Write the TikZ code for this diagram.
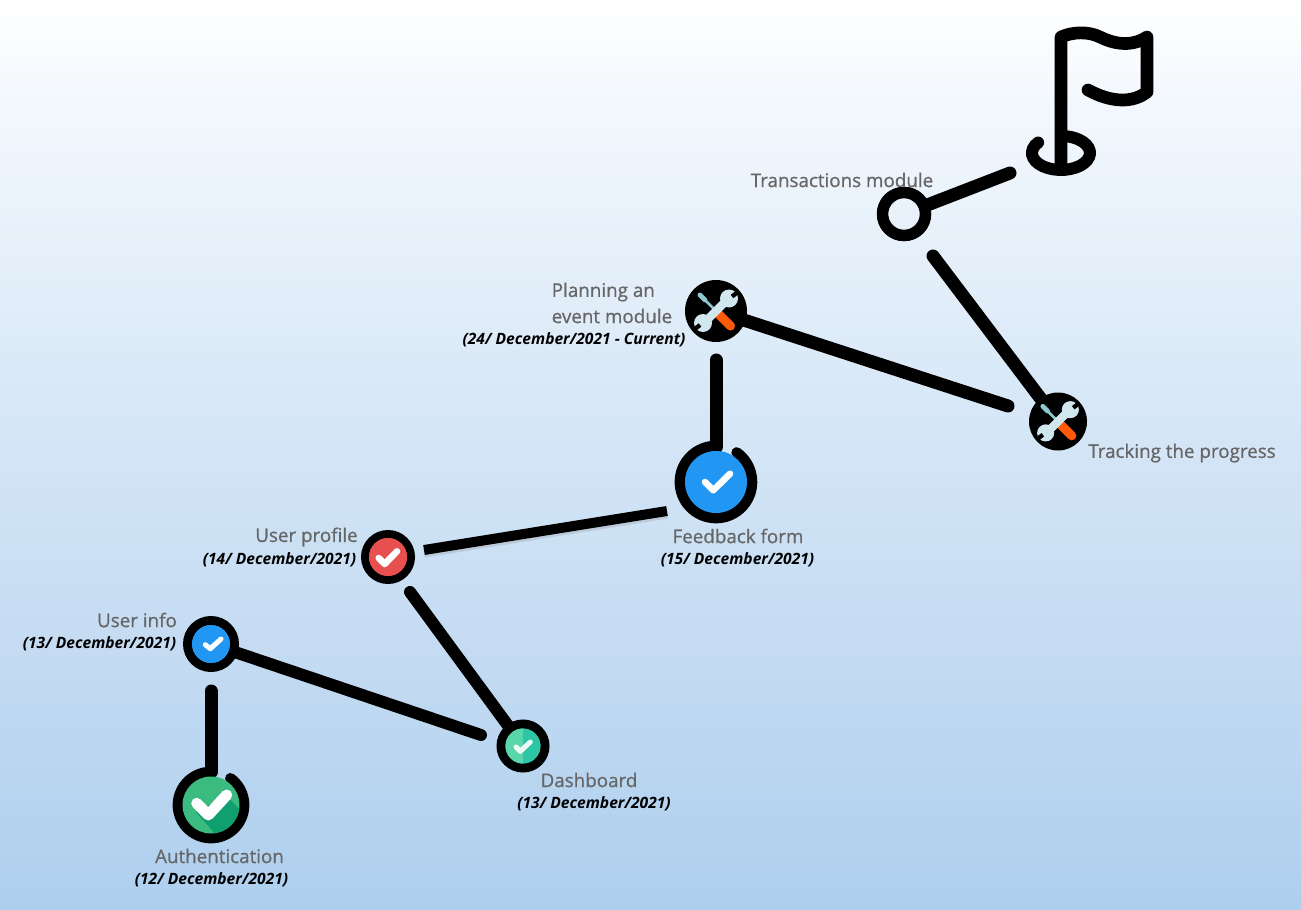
\documentclass[tikz,border=0pt]{standalone}
\usepackage{fontspec}
\setmainfont{Open Sans}
\newfontfamily\semibold[FakeBold=0.7]{Open Sans}
\definecolor{bgA}{HTML}{FFFFFF}
\definecolor{bgB}{HTML}{F3F8FD}
\definecolor{bgC}{HTML}{E6F0FA}
\definecolor{bgD}{HTML}{D3E5F6}
\definecolor{bgE}{HTML}{C4DBF2}
\definecolor{bgF}{HTML}{ADCFEE}
\definecolor{lab}{HTML}{666666}
\definecolor{okblue}{HTML}{2196F3}
\definecolor{okred}{HTML}{E8504F}
\definecolor{okgreen}{HTML}{3CBB80}
\definecolor{okgreenD}{HTML}{10A070}
\definecolor{tealL}{HTML}{5AD6AB}
\definecolor{tealR}{HTML}{2EC4A6}
\definecolor{steel}{HTML}{CFE7ED}
\definecolor{shaft}{HTML}{8FC7CF}
\definecolor{handle}{HTML}{FF5A0A}
\pgfdeclareverticalshading{bgsh}{100bp}{color(0bp)=(bgF); color(25bp)=(bgF); color(39.25bp)=(bgE); color(50.25bp)=(bgD); color(61.25bp)=(bgC); color(69.5bp)=(bgB); color(75bp)=(bgA); color(100bp)=(bgA)}
\tikzset{
  conn/.style={line width=#1*0.75pt,black,line cap=round},
  ringnode/.style n args={3}{circle,outer sep=0pt,inner sep=0pt,draw=black,fill=#1,line width=#2*0.75pt,minimum size=#3*0.75pt},
  gapnode/.style n args={2}{circle,outer sep=0pt,inner sep=0pt,fill=#1,minimum size=#2*0.75pt},
  tick/.style={draw=white,line width=#1*0.75pt,line cap=round,line join=round},
  title/.style={text=lab,font=\fontsize{14.1pt}{16pt}\semibold,inner sep=0pt},
  stamp/.style={text=black,font=\fontsize{11.7pt}{13pt}\selectfont\bfseries\itshape,inner sep=0pt},
  toolsicon/.pic={
    \draw[shaft,line width=2pt] (-14,-14) -- (3,3);
    \draw[shaft,line width=3.6pt,line cap=round] (-16,-16) -- (-11,-11);
    \draw[handle,line width=6.8pt,line cap=round] (3,3.5) -- (14.5,15);
    \draw[steel,line width=6.2pt] (-12,12) -- (12,-12);
    \fill[steel] (-13,12) circle[radius=9];
    \fill[steel] (13,-12.5) circle[radius=9];
    \draw[black,line width=3.2pt] (-16,14) -- (-22.5,19);
    \draw[black,line width=3.2pt] (16,-14.5) -- (22.5,-19.5);
  },
}
\begin{document}
\begin{tikzpicture}[x=0.75pt,y=-0.75pt]
\useasboundingbox (0,0) rectangle (1301,909);
\path[shading=bgsh] (0,0) rectangle (1301,909);

% nodes
\node[ringnode={none}{11}{43}] (transactions) at (904,214) {};
\node[circle,fill=black,inner sep=0pt,outer sep=0pt,minimum size=46.5pt] (planning) at (716,311) {};
\node[circle,fill=black,inner sep=0pt,outer sep=0pt,minimum size=43.5pt] (tracking) at (1058,421.5) {};
\node[gapnode={okblue}{62}] (feedback) at (716,482) {};
\node[ringnode={okred}{8}{46}] (userprofile) at (388,557) {};
\node[ringnode={okblue}{9}{47}] (userinfo) at (211,644) {};
\node[ringnode={tealR}{9}{44}] (dashboard) at (523,746) {};
\node[gapnode={okgreen}{57}] (authentication) at (211,805) {};

% free ends of connectors
\coordinate (flagend) at (1010,173);
\coordinate (trackingend) at (1008,406);
\coordinate (planningend) at (716,360);
\coordinate (feedbackend) at (716,447);
\coordinate (fbleft) at (667,511);
\coordinate (upright) at (424,550);
\coordinate (upbelow) at (410,592);
\coordinate (dashleft) at (481,735);
\coordinate (uibelow) at (211,691);
\coordinate (authtop) at (211,772);
\coordinate (transbelow) at (933,256);

% connectors
\draw[conn=13] (transactions) -- (flagend);
\draw[conn=13] (transbelow) -- (tracking);
\draw[conn=13] (planning) -- (trackingend);
\draw[conn=13] (planningend) -- (feedbackend);
\draw[black!45,opacity=.25,line width=7.5pt] ([yshift=-2pt]fbleft) -- ([yshift=-2pt]upright);
\draw[line width=7.5pt,black] (fbleft) -- (upright);
\draw[conn=12] (upbelow) -- (dashboard);
\draw[conn=12] (userinfo) -- (dashleft);
\draw[conn=13] (uibelow) -- (authtop);

% ring over the connector end
\begin{scope}
\clip (transactions) circle[radius=16];
\path[shading=bgsh] (0,0) rectangle (1301,909);
\end{scope}
\draw[black,line width=8.6pt] (transactions) circle[radius=21.5];

% flag
\draw[black,line width=9.5pt,line cap=round,line join=round]
  (1061,168) -- (1061,37) .. controls (1072,32) and (1088,31) .. (1100,37)
  .. controls (1112,43) and (1130,48) .. (1147,37) -- (1147,92)
  .. controls (1133,103) and (1112,103) .. (1088,90);
\draw[black,line width=9pt,line cap=round] (1038.1,142.5) arc[start angle=142,end angle=450,x radius=21.75pt,y radius=12.75pt];

% rings with a gap
\draw[black,line width=8pt,line cap=round] (736.6,452.5) arc[start angle=55,end angle=-270,radius=27pt];
\draw[black,line width=8pt,line cap=round] (230.4,778.3) arc[start angle=54,end angle=-270,radius=24.75pt];

% centre fills over connector ends
\fill[okred] (userprofile) circle[radius=19];
\fill[okblue] (userinfo) circle[radius=19];
\fill[tealR] (dashboard) circle[radius=17.5];
\begin{scope}
\clip (dashboard) circle[radius=17.5];
\fill[tealL] (505,725) rectangle (523,765);
\end{scope}
\fill[okblue] (feedback) circle[radius=31];
\fill[okgreen] (authentication) circle[radius=28.5];
\begin{scope}
\clip (authentication) circle[radius=28.5];
\fill[okgreenD] (196,812) -- (226,795) -- (245,815) -- (225,845) -- (210,828) -- cycle;
\end{scope}

% check marks
\draw[tick=6.5] (705,482) -- (713.3,490.3) -- (730,473.7);
\draw[tick=6.5] (378.7,558) -- (384.7,564) -- (397,551.3);
\draw[tick=5,draw=white,opacity=.9] (516,747) -- (520.3,751.3) -- (530.3,742);
\draw[tick=5] (205.3,644.7) -- (210.3,648.7) -- (221,639);
\draw[tick=11] (196.7,803.3) -- (208.3,815) -- (226.7,795);

% tool icons
\pic at (planning) {toolsicon};
\pic[scale=.95] at (tracking) {toolsicon};

% labels
\node[title] (lbtrans) at (842,180) {Transactions module};
\node[title,anchor=west] (lbplana) at (551.5,292) {Planning an};
\node[title,anchor=west] (lbplanb) at (551.5,316) {event module};
\node[stamp] (dtplan) at (574,339.5) {(24/ December/2021 - Current)};
\node[title] (lbtrack) at (1182,453) {Tracking the progress};
\node[title] (lbfeed) at (738,536) {Feedback form};
\node[stamp] (dtfeed) at (737.5,560) {(15/ December/2021)};
\node[title] (lbprof) at (306.5,537) {User profile};
\node[stamp] (dtprof) at (279.5,560) {(14/ December/2021)};
\node[title] (lbinfo) at (137,620) {User info};
\node[stamp] (dtinfo) at (99.5,644) {(13/ December/2021)};
\node[title] (lbdash) at (589,780) {Dashboard};
\node[stamp] (dtdash) at (594,804) {(13/ December/2021)};
\node[title] (lbauth) at (219.5,856) {Authentication};
\node[stamp] (dtauth) at (211.5,880) {(12/ December/2021)};
\end{tikzpicture}
\end{document}
